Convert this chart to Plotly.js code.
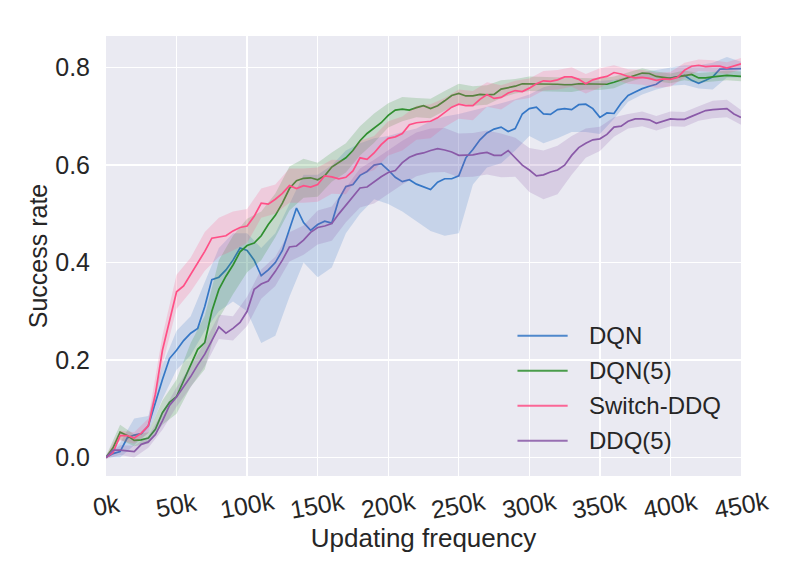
<!DOCTYPE html>
<html>
<head>
<meta charset="utf-8">
<script src="https://cdn.plot.ly/plotly-3.0.1.min.js"></script>
<style>
  html, body { margin: 0; padding: 0; background: #fff; }
  #chart { width: 800px; height: 580px; }
</style>
</head>
<body>
<div id="chart"></div>
<script>
// updates in thousands, one point per 5k
var steps = [0,5,10,15,20,25,30,35,40,45,50,55,60,65,70,75,80,85,90,95,
  100,105,110,115,120,125,130,135,140,145,150,155,160,165,170,175,180,185,190,195,
  200,205,210,215,220,225,230,235,240,245,250,255,260,265,270,275,280,285,290,295,
  300,305,310,315,320,325,330,335,340,345,350,355,360,365,370,375,380,385,390,395,
  400,405,410,415,420,425,430,435,440,445,450];

// band samples, one per 10k
var bandSteps = [0,10,20,30,40,50,60,70,80,90,100,110,120,130,140,150,160,170,180,190,
  200,210,220,230,240,250,260,270,280,290,300,310,320,330,340,350,360,370,380,390,
  400,410,420,430,440,450];

var dqn = [0.0,0.008,0.012,0.04,0.046,0.049,0.065,0.114,0.16,0.203,
  0.22,0.24,0.255,0.265,0.31,0.365,0.37,0.385,0.405,0.43,
  0.425,0.405,0.373,0.385,0.4,0.425,0.47,0.512,0.482,0.466,
  0.478,0.485,0.481,0.53,0.556,0.56,0.579,0.587,0.6,0.603,
  0.59,0.575,0.566,0.57,0.561,0.556,0.55,0.565,0.572,0.572,
  0.578,0.615,0.632,0.652,0.666,0.674,0.678,0.669,0.675,0.705,
  0.716,0.719,0.705,0.704,0.714,0.716,0.714,0.724,0.725,0.716,
  0.698,0.707,0.706,0.727,0.743,0.75,0.757,0.762,0.766,0.776,
  0.779,0.782,0.784,0.774,0.768,0.774,0.781,0.797,0.797,0.797,
  0.798];
var dqnLo = [0,0,0.025,0.05,0.12,0.18,0.21,0.26,0.3,0.32,
  0.3,0.235,0.25,0.33,0.4,0.37,0.39,0.46,0.5,0.53,
  0.52,0.505,0.485,0.465,0.455,0.46,0.56,0.595,0.604,0.63,
  0.66,0.645,0.655,0.668,0.668,0.664,0.695,0.73,0.745,0.755,
  0.763,0.765,0.757,0.755,0.78,0.78];
var dqnHi = [0.005,0.03,0.08,0.085,0.19,0.26,0.29,0.36,0.43,0.46,
  0.46,0.43,0.46,0.52,0.58,0.58,0.6,0.63,0.645,0.655,
  0.66,0.668,0.675,0.69,0.7,0.705,0.712,0.72,0.727,0.735,
  0.745,0.76,0.767,0.768,0.77,0.772,0.775,0.782,0.79,0.795,
  0.8,0.805,0.805,0.81,0.822,0.812];

var dqn5 = [0.0,0.02,0.052,0.045,0.035,0.036,0.04,0.058,0.092,0.113,
  0.125,0.158,0.19,0.222,0.236,0.3,0.345,0.372,0.395,0.422,
  0.435,0.44,0.455,0.478,0.497,0.522,0.552,0.568,0.573,0.574,
  0.57,0.578,0.596,0.606,0.615,0.63,0.65,0.665,0.676,0.687,
  0.702,0.713,0.715,0.713,0.718,0.722,0.716,0.722,0.732,0.743,
  0.747,0.742,0.742,0.745,0.744,0.745,0.756,0.759,0.762,0.767,
  0.767,0.766,0.766,0.767,0.766,0.765,0.765,0.767,0.767,0.766,
  0.766,0.766,0.77,0.775,0.78,0.784,0.789,0.788,0.782,0.78,
  0.778,0.781,0.784,0.786,0.779,0.779,0.781,0.783,0.784,0.783,
  0.782];
var dqn5Spread = [0.003,0.015,0.012,0.012,0.025,0.035,0.045,0.055,0.06,0.06,
  0.055,0.05,0.045,0.045,0.04,0.035,0.03,0.03,0.03,0.03,
  0.025,0.025,0.02,0.02,0.02,0.02,0.02,0.02,0.018,0.015,
  0.015,0.015,0.015,0.015,0.012,0.012,0.012,0.01,0.01,0.01,
  0.01,0.01,0.01,0.01,0.01,0.01];

var switchDdq = [0.0,0.01,0.045,0.045,0.04,0.05,0.065,0.13,0.22,0.28,
  0.34,0.352,0.375,0.4,0.423,0.45,0.452,0.455,0.465,0.472,
  0.475,0.495,0.522,0.52,0.53,0.542,0.558,0.552,0.558,0.555,
  0.56,0.578,0.576,0.572,0.575,0.588,0.615,0.612,0.625,0.642,
  0.655,0.658,0.665,0.683,0.687,0.688,0.69,0.697,0.708,0.719,
  0.725,0.722,0.722,0.735,0.745,0.737,0.739,0.748,0.753,0.751,
  0.758,0.767,0.773,0.772,0.775,0.781,0.781,0.776,0.767,0.775,
  0.779,0.782,0.79,0.787,0.782,0.779,0.78,0.778,0.774,0.777,
  0.776,0.78,0.795,0.803,0.805,0.802,0.803,0.803,0.799,0.804,
  0.808];
var switchSpread = [0.003,0.01,0.012,0.015,0.03,0.035,0.035,0.04,0.04,0.04,
  0.035,0.03,0.03,0.035,0.035,0.035,0.035,0.035,0.035,0.035,
  0.035,0.035,0.035,0.035,0.03,0.03,0.03,0.025,0.025,0.02,
  0.02,0.02,0.02,0.02,0.02,0.02,0.015,0.015,0.015,0.015,
  0.015,0.015,0.012,0.012,0.012,0.012];

var ddq5 = [0.0,0.015,0.015,0.013,0.012,0.027,0.032,0.047,0.075,0.107,
  0.124,0.145,0.166,0.19,0.212,0.24,0.268,0.255,0.265,0.277,
  0.3,0.345,0.356,0.362,0.382,0.405,0.432,0.434,0.446,0.462,
  0.472,0.475,0.48,0.5,0.518,0.536,0.553,0.555,0.566,0.576,
  0.585,0.589,0.605,0.616,0.622,0.625,0.63,0.634,0.631,0.627,
  0.62,0.62,0.621,0.624,0.626,0.62,0.62,0.63,0.616,0.6,
  0.59,0.578,0.58,0.586,0.59,0.6,0.62,0.636,0.645,0.652,
  0.654,0.663,0.678,0.68,0.69,0.695,0.695,0.693,0.686,0.69,
  0.695,0.694,0.694,0.7,0.706,0.712,0.714,0.715,0.716,0.705,
  0.698];
var ddq5Spread = [0.003,0.01,0.012,0.012,0.018,0.02,0.022,0.025,0.025,0.025,
  0.03,0.03,0.03,0.03,0.03,0.035,0.035,0.035,0.04,0.045,
  0.045,0.045,0.045,0.045,0.045,0.045,0.045,0.045,0.045,0.04,
  0.045,0.05,0.05,0.04,0.03,0.025,0.02,0.015,0.015,0.015,
  0.015,0.015,0.015,0.018,0.018,0.015];

var seriesNames = ['DQN', 'DQN(5)', 'Switch-DDQ', 'DDQ(5)'];
var tickVals = [0,50,100,150,200,250,300,350,400,450];
var tickText = ['0k','50k','100k','150k','200k','250k','300k','350k','400k','450k'];

var blue = '#3577c6', green = '#2f8f2f', pink = '#ff4f86', purple = '#8a5aa8';
var colors = [blue, green, pink, purple];
var txtColor = '#262626';

function bandFromBounds(lo, hi, color){
  var xs = bandSteps.concat(bandSteps.slice().reverse());
  var ys = hi.concat(lo.slice().reverse());
  return {x: xs, y: ys, type: 'scatter', mode: 'lines', fill: 'toself',
    fillcolor: color, line: {width: 0}, hoverinfo: 'skip', showlegend: false};
}

// band around the drawn line, using every other line point
function bandFromSpread(mean, spread, color){
  var lo = [], hi = [];
  for (var i = 0; i < bandSteps.length; i++){
    var m = mean[i*2];
    lo.push(m - spread[i]);
    hi.push(m + spread[i]);
  }
  return bandFromBounds(lo, hi, color);
}

function line(y, name, color){
  return {x: steps, y: y, name: name, type: 'scatter', mode: 'lines',
    line: {color: color, width: 1.7}, showlegend: false};
}

var data = [
  bandFromBounds(dqnLo, dqnHi, 'rgba(53,119,198,0.2)'),
  line(dqn, seriesNames[0], blue),
  bandFromSpread(dqn5, dqn5Spread, 'rgba(47,143,47,0.2)'),
  line(dqn5, seriesNames[1], green),
  bandFromSpread(switchDdq, switchSpread, 'rgba(255,79,134,0.2)'),
  line(switchDdq, seriesNames[2], pink),
  bandFromSpread(ddq5, ddq5Spread, 'rgba(138,90,168,0.2)'),
  line(ddq5, seriesNames[3], purple)
];

// rotated x tick labels, centred under each tick like matplotlib does
var annotations = [];
for (var i = 0; i < tickVals.length; i++){
  annotations.push({
    x: tickVals[i], xref: 'x', y: -0.067, yref: 'paper',
    text: tickText[i], showarrow: false, textangle: -10,
    xanchor: 'center', yanchor: 'middle',
    font: {size: 25, color: txtColor}
  });
}

// legend drawn by hand: long line samples, wide row spacing
var shapes = [];
var legTop = 0.3186, legStep = 0.0795;
for (var k = 0; k < seriesNames.length; k++){
  var yy = legTop - k * legStep;
  shapes.push({type: 'line', xref: 'paper', yref: 'paper',
    x0: 0.648, x1: 0.727, y0: yy, y1: yy,
    line: {color: colors[k], width: 2}, opacity: 0.85});
  annotations.push({
    x: 0.757, xref: 'paper', y: yy, yref: 'paper',
    text: seriesNames[k], showarrow: false,
    xanchor: 'left', yanchor: 'middle',
    font: {size: 24, color: txtColor}
  });
}

var layout = {
  width: 800,
  height: 580,
  margin: {l: 106, r: 59, t: 36, b: 104},
  paper_bgcolor: '#ffffff',
  plot_bgcolor: '#eaeaf2',
  font: {family: '"Liberation Sans", Arial, sans-serif', size: 25, color: txtColor},
  showlegend: false,
  annotations: annotations,
  shapes: shapes,
  xaxis: {
    range: [0, 450],
    tickvals: tickVals,
    showticklabels: false,
    showgrid: true,
    gridcolor: '#ffffff',
    gridwidth: 1.3,
    zeroline: false,
    showline: false,
    ticks: '',
    title: {text: 'Updating frequency', font: {size: 26}, standoff: 52}
  },
  yaxis: {
    range: [-0.038, 0.865],
    tickvals: [0, 0.2, 0.4, 0.6, 0.8],
    ticktext: ['0.0', '0.2', '0.4', '0.6', '0.8'],
    tickfont: {size: 25},
    showgrid: true,
    gridcolor: '#ffffff',
    gridwidth: 1.3,
    zeroline: false,
    showline: false,
    ticks: 'outside',
    ticklen: 10,
    tickcolor: 'rgba(0,0,0,0)',
    title: {text: 'Success rate', font: {size: 25}, standoff: 0}
  }
};

Plotly.newPlot('chart', data, layout, {displayModeBar: false, staticPlot: true});
</script>
</body>
</html>
